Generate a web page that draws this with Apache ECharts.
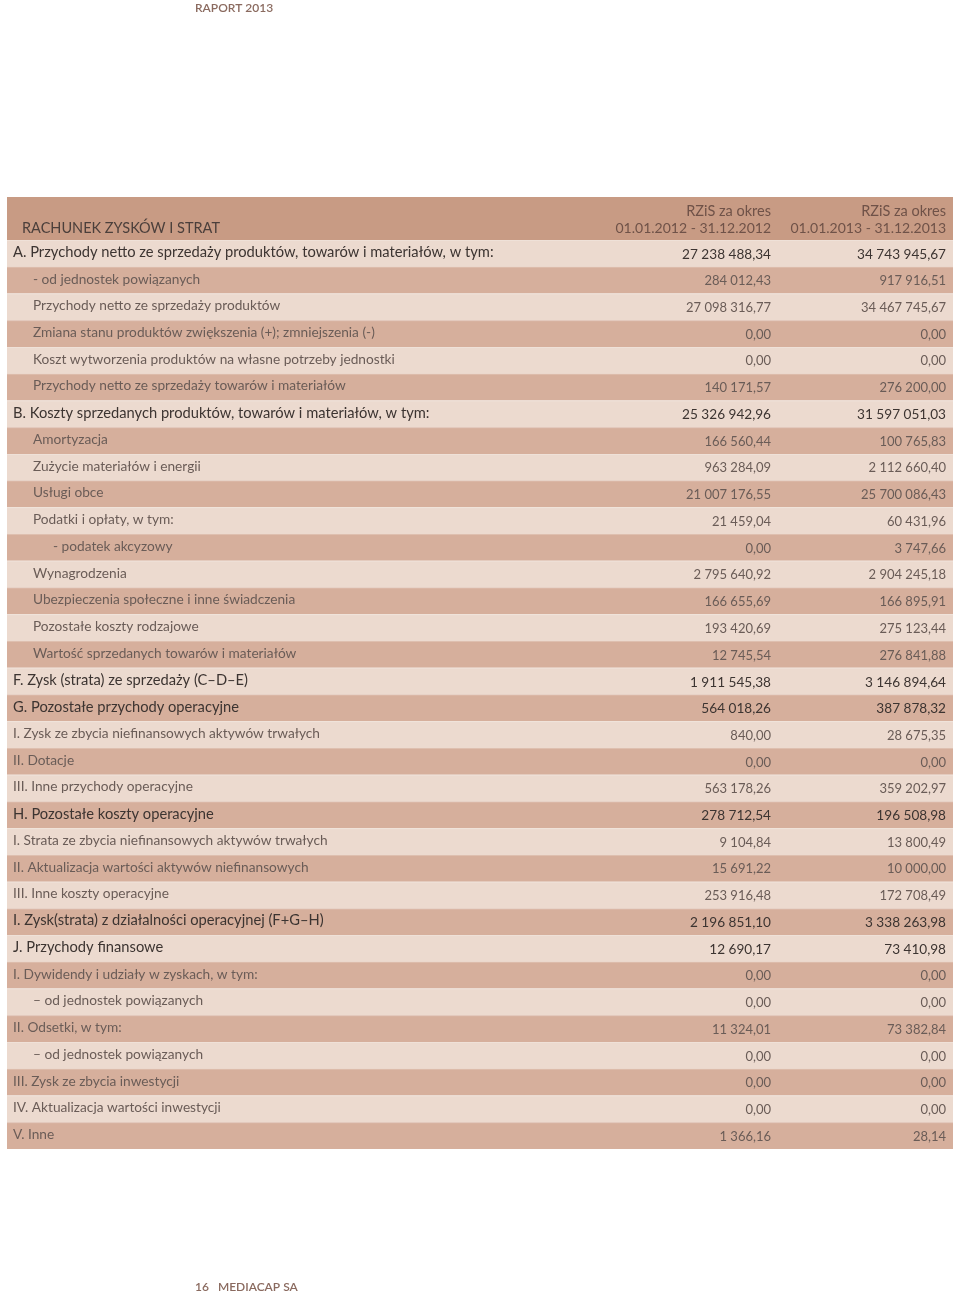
<!DOCTYPE html>
<html>
<head>
<meta charset="utf-8">
<title>Rachunek zysków i strat</title>
<script src="https://cdn.jsdelivr.net/npm/echarts@6/dist/echarts.min.js"></script>
<style>
  html, body { margin: 0; padding: 0; background: #fff; }
  #main { width: 960px; height: 1298px; }
</style>
</head>
<body>
<div id="main"></div>
<script>
// pozycje rachunku
var labels = [
  'A. Przychody netto ze sprzedaży produktów, towarów i materiałów, w tym:',
  '- od jednostek powiązanych',
  'Przychody netto ze sprzedaży produktów',
  'Zmiana stanu produktów zwiększenia (+); zmniejszenia (-)',
  'Koszt wytworzenia produktów na własne potrzeby jednostki',
  'Przychody netto ze sprzedaży towarów i materiałów',
  'B. Koszty sprzedanych produktów, towarów i materiałów, w tym:',
  'Amortyzacja',
  'Zużycie materiałów i energii',
  'Usługi obce',
  'Podatki i opłaty, w tym:',
  '- podatek akcyzowy',
  'Wynagrodzenia',
  'Ubezpieczenia społeczne i inne świadczenia',
  'Pozostałe koszty rodzajowe',
  'Wartość sprzedanych towarów i materiałów',
  'F. Zysk (strata) ze sprzedaży (C–D–E)',
  'G. Pozostałe przychody operacyjne',
  'I. Zysk ze zbycia niefinansowych aktywów trwałych',
  'II. Dotacje',
  'III. Inne przychody operacyjne',
  'H. Pozostałe koszty operacyjne',
  'I. Strata ze zbycia niefinansowych aktywów trwałych',
  'II. Aktualizacja wartości aktywów niefinansowych',
  'III. Inne koszty operacyjne',
  'I. Zysk(strata) z działalności operacyjnej (F+G–H)',
  'J. Przychody finansowe',
  'I. Dywidendy i udziały w zyskach, w tym:',
  '– od jednostek powiązanych',
  'II. Odsetki, w tym:',
  '– od jednostek powiązanych',
  'III. Zysk ze zbycia inwestycji',
  'IV. Aktualizacja wartości inwestycji',
  'V. Inne'
];
var indent = [0,1,1,1,1,1, 0,1,1,1,1,2,1,1,1,1, 0,0,0,0,0, 0,0,0,0, 0,0,0,1,0,1,0,0,0];
var boldRows = [0, 6, 16, 17, 21, 25, 26];

var v2012 = [27238488.34, 284012.43, 27098316.77, 0, 0, 140171.57,
  25326942.96, 166560.44, 963284.09, 21007176.55, 21459.04, 0, 2795640.92, 166655.69, 193420.69, 12745.54,
  1911545.38, 564018.26, 840.00, 0, 563178.26,
  278712.54, 9104.84, 15691.22, 253916.48,
  2196851.10, 12690.17, 0, 0, 11324.01, 0, 0, 0, 1366.16];
var v2013 = [34743945.67, 917916.51, 34467745.67, 0, 0, 276200.00,
  31597051.03, 100765.83, 2112660.40, 25700086.43, 60431.96, 3747.66, 2904245.18, 166895.91, 275123.44, 276841.88,
  3146894.64, 387878.32, 28675.35, 0, 359202.97,
  196508.98, 13800.49, 10000.00, 172708.49,
  3338263.98, 73410.98, 0, 0, 73382.84, 0, 0, 0, 28.14];

var FONT = 'Lato, "Open Sans", sans-serif';
var LIGHT = '#ecdacf', DARK = '#d6af9c', HEAD = '#c89b84';

function fmt(n) {
  var p = n.toFixed(2).split('.');
  return p[0].replace(/\B(?=(\d{3})+(?!\d))/g, ' ') + ',' + p[1];
}

var myChart = echarts.init(document.getElementById('main'));

var option = {
  animation: false,
  grid: { left: 7, right: 7, top: 240, height: 909 },
  xAxis: { type: 'value', min: 0, max: 1, show: false },
  yAxis: {
    type: 'category', inverse: true, show: false,
    data: labels.map(function (l, i) { return i; })
  },
  graphic: [
    { type: 'text', left: 195, top: 2,
      style: { text: 'RAPORT 2013', font: '600 12px ' + FONT, fill: '#8a6a5f' } },
    { type: 'rect', shape: { x: 7, y: 197, width: 946, height: 43 }, style: { fill: HEAD } },
    { type: 'text', x: 22, y: 228,
      style: { text: 'RACHUNEK ZYSKÓW I STRAT', font: '14.5px ' + FONT, fill: '#4b3f3b', verticalAlign: 'middle' } },
    { type: 'text', x: 771, y: 211,
      style: { text: 'RZiS za okres', font: '14.5px ' + FONT, fill: '#6f5248', align: 'right', verticalAlign: 'middle' } },
    { type: 'text', x: 771, y: 228,
      style: { text: '01.01.2012 - 31.12.2012', font: '14px ' + FONT, fill: '#6f5248', align: 'right', verticalAlign: 'middle' } },
    { type: 'text', x: 946, y: 211,
      style: { text: 'RZiS za okres', font: '14.5px ' + FONT, fill: '#6f5248', align: 'right', verticalAlign: 'middle' } },
    { type: 'text', x: 946, y: 228,
      style: { text: '01.01.2013 - 31.12.2013', font: '14px ' + FONT, fill: '#6f5248', align: 'right', verticalAlign: 'middle' } },
    { type: 'text', left: 195, top: 1281,
      style: { text: '16   MEDIACAP SA', font: '600 12px ' + FONT, fill: '#8a6a5f' } }
  ],
  series: [{
    type: 'custom',
    data: labels.map(function (l, i) { return [0, i]; }),
    encode: { x: 0, y: 1 },
    renderItem: function (params, api) {
      var i = api.value(1);
      var c = api.coord([0, i]);
      var h = api.size([0, 1])[1];
      var cs = params.coordSys;
      var bold = boldRows.indexOf(i) >= 0;
      var col = bold ? '#3c3431' : '#6a5c57';
      var font = bold ? '14.7px ' + FONT : '13.7px ' + FONT;
      var numFont = bold ? '13.6px ' + FONT : '13px ' + FONT;
      return {
        type: 'group',
        children: [
          { type: 'rect', shape: { x: cs.x, y: c[1] - h / 2, width: cs.width, height: h },
            style: { fill: i % 2 === 0 ? LIGHT : DARK } },
          { type: 'rect', shape: { x: cs.x, y: c[1] - h / 2, width: cs.width, height: 1 },
            style: { fill: 'rgba(255,255,255,0.2)' } },
          { type: 'text', x: cs.x + 6 + indent[i] * 20, y: c[1] - 1,
            style: { text: labels[i], font: font, fill: col, verticalAlign: 'middle' } },
          { type: 'text', x: cs.x + 764, y: c[1] + 1,
            style: { text: fmt(v2012[i]), font: numFont, fill: col, align: 'right', verticalAlign: 'middle' } },
          { type: 'text', x: cs.x + 939, y: c[1] + 1,
            style: { text: fmt(v2013[i]), font: numFont, fill: col, align: 'right', verticalAlign: 'middle' } }
        ]
      };
    }
  }]
};

myChart.setOption(option);
</script>
</body>
</html>
